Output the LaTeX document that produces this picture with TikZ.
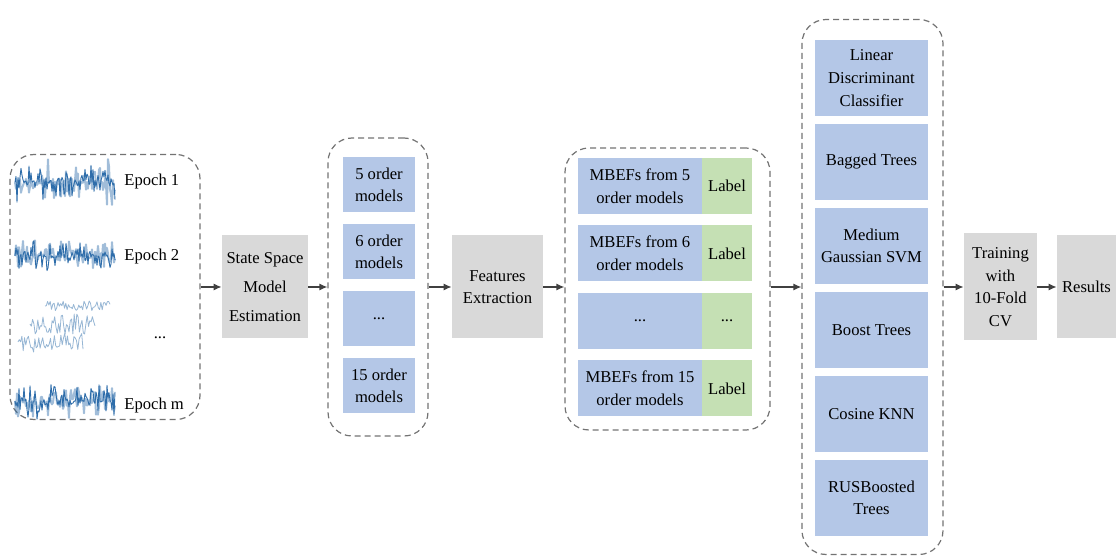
\documentclass[tikz,border=0pt]{standalone}
\usepackage{fontspec}
\setmainfont{Liberation Serif}
\usetikzlibrary{arrows.meta}

\definecolor{boxblue}{HTML}{B4C7E7}
\definecolor{boxgreen}{HTML}{C5E0B4}
\definecolor{boxgray}{HTML}{D9D9D9}
\definecolor{wavecol}{HTML}{2E6DAA}

% one noisy epoch trace: y centre, amplitude, seed
\newcommand\drawwave[3]{%
  \pgfmathsetseed{#3}
  \draw[trace,opacity=0.45,line width=1pt] (15,#1) \foreach \i in {1,...,100}{ -- ({15+\i*1},{#1+#2*rand*rnd}) };
  \draw[trace] (15,#1) \foreach \i in {1,...,100}{ -- ({15+\i*1},{#1+#2*rand*rnd}) };
}

\begin{document}
\begin{tikzpicture}
  [
    x=0.5pt, y=-0.5pt,
    inner sep=0mm,
    font=\fontsize{8.3}{11.3}\selectfont,
    group/.style={draw=black!55,dashed,dash pattern=on 3pt off 2pt,line width=0.6pt,rounded corners=12pt},
    process/.style={rectangle,fill=boxgray,align=center,minimum height=51.5pt},
    order/.style={rectangle,fill=boxblue,align=center,minimum width=36pt,minimum height=27.5pt},
    mbef/.style={rectangle,fill=boxblue,align=center,minimum width=62pt,minimum height=28pt},
    tag/.style={rectangle,fill=boxgreen,align=center,minimum width=25pt,minimum height=28pt},
    method/.style={rectangle,fill=boxblue,align=center,minimum width=56.5pt,minimum height=38pt},
    trace/.style={wavecol,line width=0.45pt,line join=round},
    faint/.style={wavecol!50,line width=0.4pt,line join=round},
    arr/.style={-{Latex[length=4pt,width=3.5pt]},draw=black!75,line width=0.6pt},
  ]
  \useasboundingbox (0,0) rectangle (1116,556);

  % input epochs
  \node[group,minimum width=95pt,minimum height=132.5pt] (epochs) at (105,287) {};
  \drawwave{182}{24}{11}
  \drawwave{256}{18}{23}
  \drawwave{401}{20}{37}
  \pgfmathsetseed{5}
  \draw[faint] (45,306) \foreach \i in {1,...,50}{ -- ({45+\i*1.3},{306+5*rand}) };
  \pgfmathsetseed{7}
  \draw[faint] (30,324) \foreach \i in {1,...,50}{ -- ({30+\i*1.3},{324+10*rand}) };
  \pgfmathsetseed{9}
  \draw[faint] (18,342) \foreach \i in {1,...,50}{ -- ({18+\i*1.3},{342+10*rand}) };
  \node[anchor=west] (ep1) at (124,182) {Epoch 1};
  \node[anchor=west] (ep2) at (124,257) {Epoch 2};
  \node (epdots)           at (160,338) {...};
  \node[anchor=west] (epm) at (124,406) {Epoch m};

  \node[process,minimum width=43pt,font=\fontsize{8.3}{14.5}\selectfont] (ssme) at (265,287)
    {State Space\\Model\\Estimation};

  % model orders
  \node[group,minimum width=50pt,minimum height=149pt] (orders) at (378,287) {};
  \node[order] (o5)    at (379,185) {5 order\\models};
  \node[order] (o6)    at (379,252) {6 order\\models};
  \node[order] (odots) at (379,319) {...};
  \node[order] (o15)   at (379,386) {15 order\\models};

  \node[process,minimum width=45.5pt] (fe) at (497.5,287) {Features\\Extraction};

  % feature sets with labels
  \node[group,minimum width=102.5pt,minimum height=141pt] (feats) at (667.5,289) {};
  \node[mbef] (m5)    at (640,186)   {MBEFs from 5\\order models};
  \node[tag]  (l5)    at (727,186)   {Label};
  \node[mbef] (m6)    at (640,253.5) {MBEFs from 6\\order models};
  \node[tag]  (l6)    at (727,253.5) {Label};
  \node[mbef] (mdots) at (640,321)   {...};
  \node[tag]  (ldots) at (727,321)   {...};
  \node[mbef] (m15)   at (640,388.5) {MBEFs from 15\\order models};
  \node[tag]  (l15)   at (727,388.5) {Label};

  % classifiers
  \node[group,minimum width=70.5pt,minimum height=267.5pt] (classifiers) at (872.5,287) {};
  \node[method] (lda) at (871.5,78)  {Linear\\Discriminant\\Classifier};
  \node[method] (bag) at (871.5,162) {Bagged Trees};
  \node[method] (svm) at (871.5,246) {Medium\\Gaussian SVM};
  \node[method] (bst) at (871.5,330) {Boost Trees};
  \node[method] (knn) at (871.5,414) {Cosine KNN};
  \node[method] (rus) at (871.5,498) {RUSBoosted\\Trees};

  \node[process,minimum width=36.5pt,minimum height=53.5pt] (train) at (1000.5,287)
    {Training\\with\\10-Fold\\CV};
  \node[process,minimum width=29.5pt] (results) at (1086.5,287) {Results};

  \draw[arr] (epochs) -- (ssme);
  \draw[arr] (ssme) -- (orders);
  \draw[arr] (orders) -- (fe);
  \draw[arr] (fe) -- (fe -| feats.west);
  \draw[arr] (feats.east |- fe) -- (fe -| classifiers.west);
  \draw[arr] (classifiers) -- (train);
  \draw[arr] (train) -- (results);
\end{tikzpicture}
\end{document}
